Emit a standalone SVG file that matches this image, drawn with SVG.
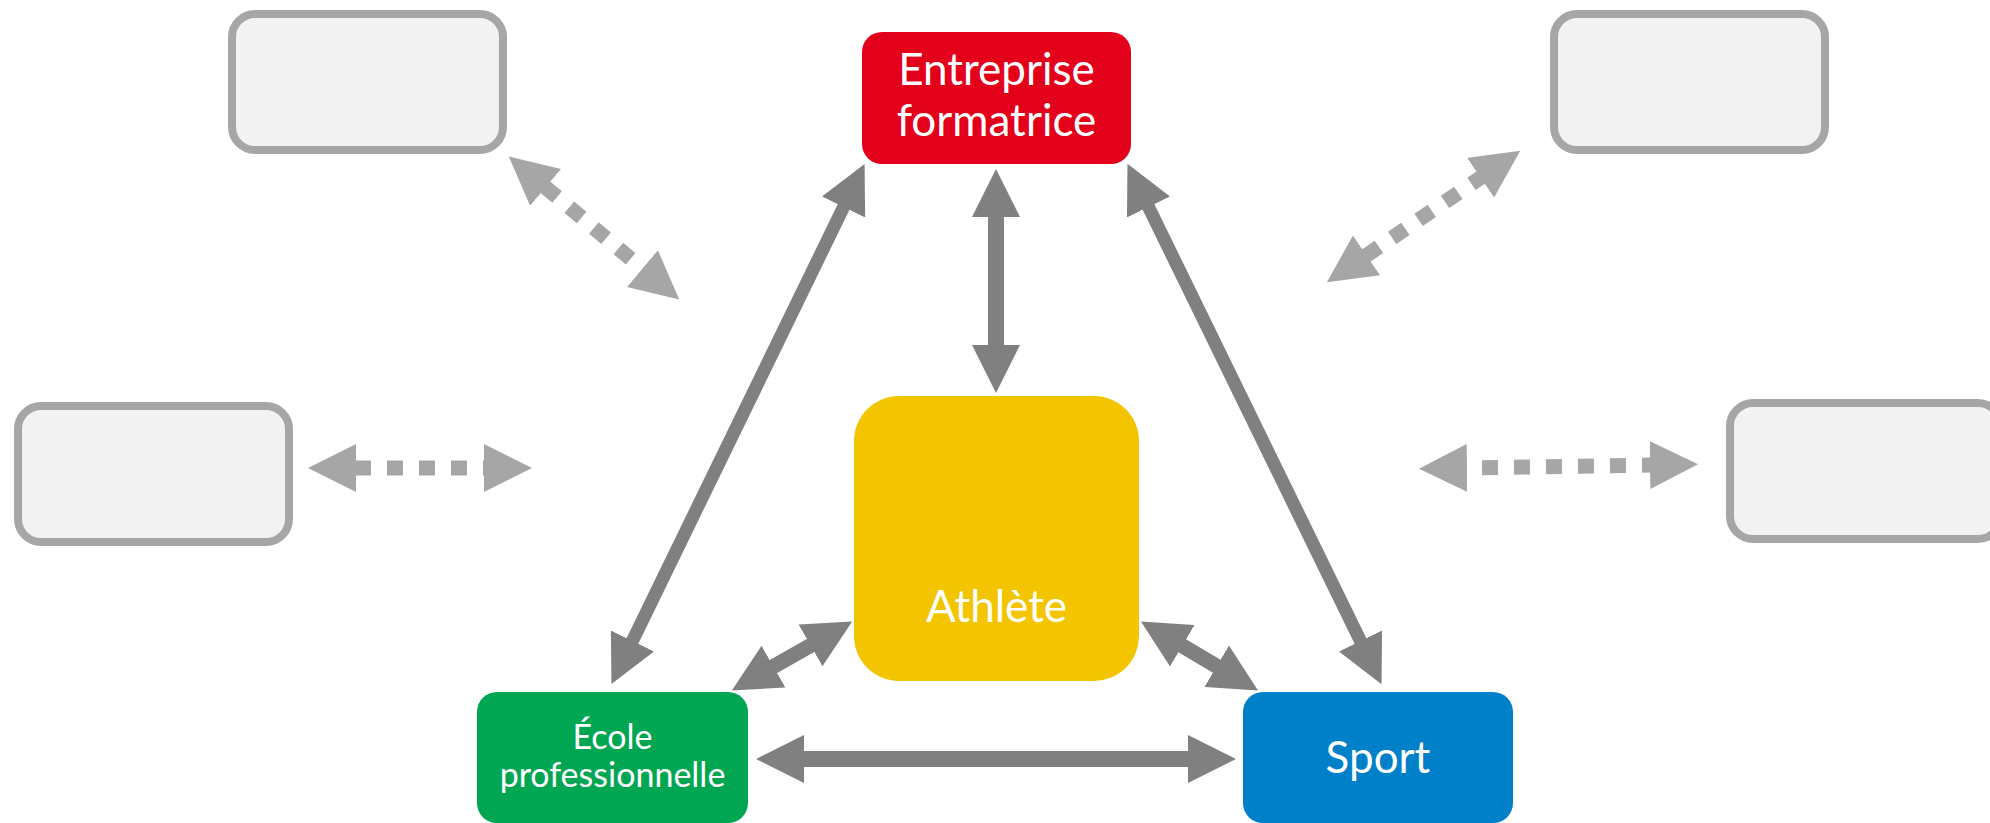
<svg xmlns="http://www.w3.org/2000/svg" width="1990" height="823" viewBox="0 0 1990 823">
  <defs>
    <style>
      .ghost { fill: #f2f2f2; stroke: #a6a6a6; stroke-width: 8; }
      .lbl { fill: #ffffff; font-family: Lato, "Open Sans", "Liberation Sans", sans-serif; text-anchor: middle; }
      .solid { stroke: #808080; fill: none; }
      .dotted { stroke: #a6a6a6; stroke-width: 15; stroke-dasharray: 16 16; fill: none; }
    </style>
    <marker id="headSolid" viewBox="0 -24 48 48" refX="1" refY="0" markerWidth="48" markerHeight="48" markerUnits="userSpaceOnUse" orient="auto-start-reverse">
      <path d="M0,-24 L48,0 L0,24 Z" fill="#808080"/>
    </marker>
    <marker id="headDot" viewBox="0 -24 48 48" refX="1" refY="0" markerWidth="48" markerHeight="48" markerUnits="userSpaceOnUse" orient="auto-start-reverse">
      <path d="M0,-24 L48,0 L0,24 Z" fill="#a6a6a6"/>
    </marker>
  </defs>
  <rect width="1990" height="823" fill="#ffffff"/>

  <g id="connectors">
    <line class="solid" stroke-width="16" x1="996" y1="216" x2="996" y2="346" marker-start="url(#headSolid)" marker-end="url(#headSolid)"/>
    <line class="solid" stroke-width="16" x1="803" y1="759" x2="1189" y2="759" marker-start="url(#headSolid)" marker-end="url(#headSolid)"/>
    <line class="solid" stroke-width="13" x1="844" y1="206.2" x2="632" y2="641.8" marker-start="url(#headSolid)" marker-end="url(#headSolid)"/>
    <line class="solid" stroke-width="13" x1="1148.1" y1="206.1" x2="1360.9" y2="641.9" marker-start="url(#headSolid)" marker-end="url(#headSolid)"/>
    <line class="solid" stroke-width="15" x1="811.4" y1="644.9" x2="772.6" y2="667.1" marker-start="url(#headSolid)" marker-end="url(#headSolid)"/>
    <line class="solid" stroke-width="15" x1="1181.4" y1="645.3" x2="1217.6" y2="666.7" marker-start="url(#headSolid)" marker-end="url(#headSolid)"/>

    <line class="dotted" x1="355" y1="468" x2="485" y2="468" marker-start="url(#headDot)" marker-end="url(#headDot)"/>
    <line class="dotted" stroke-dashoffset="16" x1="1466" y1="468" x2="1651" y2="465" marker-start="url(#headDot)" marker-end="url(#headDot)"/>
    <line class="dotted" x1="544.8" y1="186.8" x2="643.2" y2="269.2" marker-start="url(#headDot)" marker-end="url(#headDot)"/>
    <line class="dotted" x1="1365.7" y1="255.9" x2="1481.4" y2="177.1" marker-start="url(#headDot)" marker-end="url(#headDot)"/>
  </g>

  <g id="ghost-top-left"><rect class="ghost" x="232" y="14" width="271" height="136" rx="23"/></g>
  <g id="ghost-top-right"><rect class="ghost" x="1554" y="14" width="271" height="136" rx="23"/></g>
  <g id="ghost-left"><rect class="ghost" x="18" y="406" width="271" height="136" rx="23"/></g>
  <g id="ghost-right"><rect class="ghost" x="1730" y="403" width="271" height="136" rx="23"/></g>

  <g id="entreprise">
    <rect x="862" y="32" width="269" height="132" rx="20" fill="#e3001b"/>
    <text class="lbl" x="996.5" y="85" font-size="44">Entreprise</text>
    <text class="lbl" x="996.5" y="136" font-size="44">formatrice</text>
  </g>
  <g id="athlete">
    <rect x="854" y="396" width="285" height="285" rx="45" fill="#f2c500"/>
    <text class="lbl" x="996.5" y="622" font-size="44">Athlète</text>
  </g>
  <g id="ecole">
    <rect x="477" y="692" width="271" height="131" rx="20" fill="#00a651"/>
    <text class="lbl" x="612.5" y="749" font-size="34">École</text>
    <text class="lbl" x="612.5" y="787" font-size="34">professionnelle</text>
  </g>
  <g id="sport">
    <rect x="1243" y="692" width="270" height="131" rx="20" fill="#0080c8"/>
    <text class="lbl" x="1378" y="773" font-size="44">Sport</text>
  </g>
</svg>
